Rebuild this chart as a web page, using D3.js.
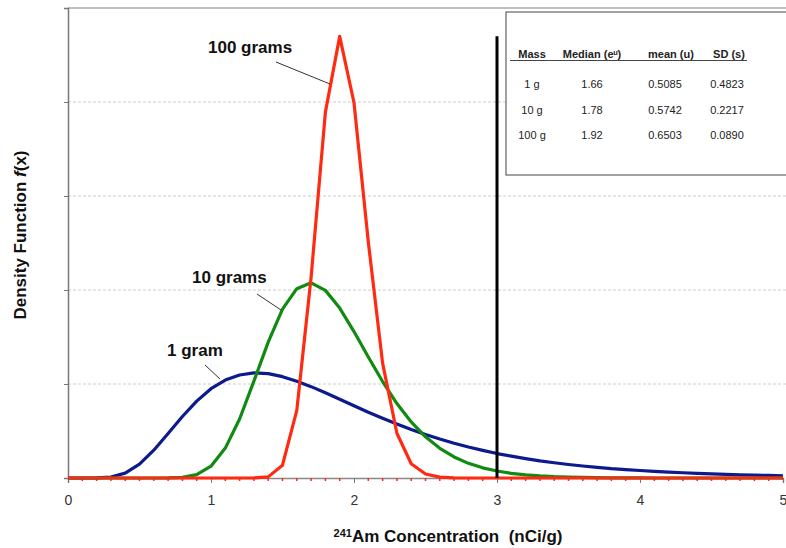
<!DOCTYPE html>
<html>
<head>
<meta charset="utf-8">
<script src="https://cdn.jsdelivr.net/npm/d3@7/dist/d3.min.js"></script>
<style>
  body { margin: 0; background: #fff; }
  text { font-family: "Liberation Sans", Arial, sans-serif; }
  .lbl { font-weight: bold; font-size: 17px; fill: #111; }
  .tbl { font-size: 11px; fill: #222; }
</style>
</head>
<body>
<script>
// concentration grid (nCi/g), 0.1 step
const conc = d3.range(51).map(i => +(i / 10).toFixed(1));

const oneGram = [0, 0, 0.0003, 0.005, 0.026, 0.074, 0.148, 0.237, 0.327, 0.409,
  0.475, 0.521, 0.548, 0.559, 0.555, 0.539, 0.515, 0.486, 0.453, 0.419,
  0.384, 0.350, 0.318, 0.287, 0.258, 0.231, 0.207, 0.185, 0.165, 0.147,
  0.130, 0.116, 0.103, 0.091, 0.081, 0.072, 0.064, 0.057, 0.050, 0.045,
  0.040, 0.035, 0.031, 0.028, 0.025, 0.022, 0.019, 0.017, 0.015, 0.014, 0.012];

const tenGrams = [0, 0, 0, 0, 0, 0, 0, 0.0004, 0.0035, 0.018,
  0.063, 0.159, 0.314, 0.515, 0.723, 0.898, 1.007, 1.038, 0.998, 0.904,
  0.779, 0.644, 0.513, 0.396, 0.298, 0.219, 0.158, 0.112, 0.078, 0.054,
  0.037, 0.025, 0.017, 0.011, 0.007, 0.005, 0.003, 0.002, 0.001, 0.001,
  0.0005, 0, 0, 0, 0, 0, 0, 0, 0, 0, 0];

const hundredGrams = [0, 0, 0, 0, 0, 0, 0, 0, 0, 0,
  0, 0, 0, 0.0003, 0.006, 0.068, 0.360, 1.068, 1.946, 2.349,
  1.996, 1.256, 0.611, 0.238, 0.076, 0.021, 0.005, 0.001, 0, 0,
  0, 0, 0, 0, 0, 0, 0, 0, 0, 0,
  0, 0, 0, 0, 0, 0, 0, 0, 0, 0, 0];

const xTicks = [0, 1, 2, 3, 4, 5];
const yGrid = [0.5, 1, 1.5, 2, 2.5];
const limit = 3;

const tableHead = ['Mass', 'Median (e\u1d58)', 'mean (u)', 'SD (s)'];
const tableRows = [
  ['1 g', '1.66', '0.5085', '0.4823'],
  ['10 g', '1.78', '0.5742', '0.2217'],
  ['100 g', '1.92', '0.6503', '0.0890']
];

const width = 786, height = 548;
const margin = {left: 68, top: 8, right: 3, bottom: 70};
const w = width - margin.left - margin.right;
const h = height - margin.top - margin.bottom;

const svg = d3.select('body').append('svg')
  .attr('width', width)
  .attr('height', height);

const g = svg.append('g')
  .attr('transform', `translate(${margin.left}, ${margin.top})`);

const x = d3.scaleLinear().domain([0, 5]).range([0, w]);
const y = d3.scaleLinear().domain([0, 2.5]).range([h, 0]);

// gridlines
g.selectAll('.grid')
  .data(yGrid)
  .enter().append('line')
  .attr('x1', 0).attr('x2', w + 10)
  .attr('y1', d => y(d)).attr('y2', d => y(d))
  .attr('stroke', d => d === 2.5 ? '#aaa' : '#ccc')
  .attr('stroke-width', d => d === 2.5 ? 1.5 : 1)
  .attr('stroke-dasharray', d => d === 2.5 ? null : '3,2');

// y axis (no labels)
const yAxis = g.append('g')
  .call(d3.axisLeft(y).tickValues([0].concat(yGrid)).tickSize(4).tickFormat(''));
yAxis.select('.domain').attr('stroke', '#777').attr('stroke-width', 1.5);
yAxis.selectAll('.tick line').attr('stroke', '#777');

// x axis
const xAxis = g.append('g')
  .attr('transform', `translate(0, ${h})`)
  .call(d3.axisBottom(x).tickValues(xTicks).tickSize(5).tickPadding(12).tickFormat(d3.format('d')));
xAxis.select('.domain').attr('stroke', '#888').attr('stroke-width', 1.5);
xAxis.selectAll('.tick line').attr('stroke', '#777');
xAxis.selectAll('.tick text').attr('font-size', 14).attr('fill', '#333')
  .style('font-family', '"Liberation Sans", Arial, sans-serif');

// small red markers along the baseline
g.selectAll('.mk')
  .data(conc.filter(d => d % 1 !== 0))
  .enter().append('line')
  .attr('x1', d => x(d)).attr('x2', d => x(d))
  .attr('y1', h).attr('y2', h + 3)
  .attr('stroke', '#ff2a12').attr('stroke-width', 1.5);

// curves
const line = d3.line()
  .x((d, i) => x(conc[i]))
  .y(d => y(d));

const series = [
  {vals: oneGram, color: '#0d1a8c'},
  {vals: tenGrams, color: '#118a11'},
  {vals: hundredGrams, color: '#ff2a12'}
];

g.selectAll('.curve')
  .data(series)
  .enter().append('path')
  .attr('d', d => line(d.vals))
  .attr('fill', 'none')
  .attr('stroke', d => d.color)
  .attr('stroke-width', 3.2)
  .attr('stroke-linejoin', 'round');

// limit line at 3 nCi/g
g.append('line')
  .attr('x1', x(limit)).attr('x2', x(limit))
  .attr('y1', y(2.35)).attr('y2', h)
  .attr('stroke', '#000').attr('stroke-width', 3);

// curve labels with leaders
const labels = [
  {text: '100 grams', tx: 208, ty: 53, lx1: 276, ly1: 62, lx2: 330, ly2: 84},
  {text: '10 grams', tx: 192, ty: 283, lx1: 257, ly1: 294, lx2: 281, ly2: 310},
  {text: '1 gram', tx: 167, ty: 356, lx1: 205, ly1: 365, lx2: 220, ly2: 379}
];
labels.forEach(l => {
  svg.append('text').attr('class', 'lbl')
    .attr('x', l.tx).attr('y', l.ty).text(l.text);
  svg.append('line')
    .attr('x1', l.lx1).attr('y1', l.ly1).attr('x2', l.lx2).attr('y2', l.ly2)
    .attr('stroke', '#333').attr('stroke-width', 1);
});

// stats table box
const box = svg.append('g');
box.append('rect')
  .attr('x', 506).attr('y', 12).attr('width', 290).attr('height', 163)
  .attr('fill', '#fff').attr('stroke', '#444').attr('stroke-width', 1);

const headX = [532, 592, 671, 729];
const colX = [532, 592, 665, 727];
tableHead.forEach((t, i) => {
  box.append('text').attr('class', 'tbl')
    .attr('x', headX[i]).attr('y', 58)
    .attr('text-anchor', 'middle')
    .attr('font-weight', 'bold')
    .attr('font-size', 10.5)
    .text(t);
});
box.append('line')
  .attr('x1', 510).attr('x2', 747).attr('y1', 60.5).attr('y2', 60.5)
  .attr('stroke', '#444').attr('stroke-width', 1);

tableRows.forEach((row, r) => {
  row.forEach((t, i) => {
    box.append('text').attr('class', 'tbl')
      .attr('x', colX[i]).attr('y', 88 + r * 25.5)
      .attr('text-anchor', 'middle')
      .text(t);
  });
});

// axis titles
const xt = svg.append('text').attr('class', 'lbl')
  .attr('x', 448).attr('y', 542)
  .attr('text-anchor', 'middle')
  .attr('font-size', 16)
  .style('white-space', 'pre');
xt.append('tspan').attr('font-size', 11).attr('dy', -5).text('241');
xt.append('tspan').attr('dy', 5).text('Am Concentration  (nCi/g)');

const yt = svg.append('text').attr('class', 'lbl')
  .attr('transform', 'translate(26, 235) rotate(-90)')
  .attr('text-anchor', 'middle')
  .attr('font-size', 15);
yt.append('tspan').text('Density Function ');
yt.append('tspan').attr('font-style', 'italic').text('f');
yt.append('tspan').text('(x)');
</script>
</body>
</html>
